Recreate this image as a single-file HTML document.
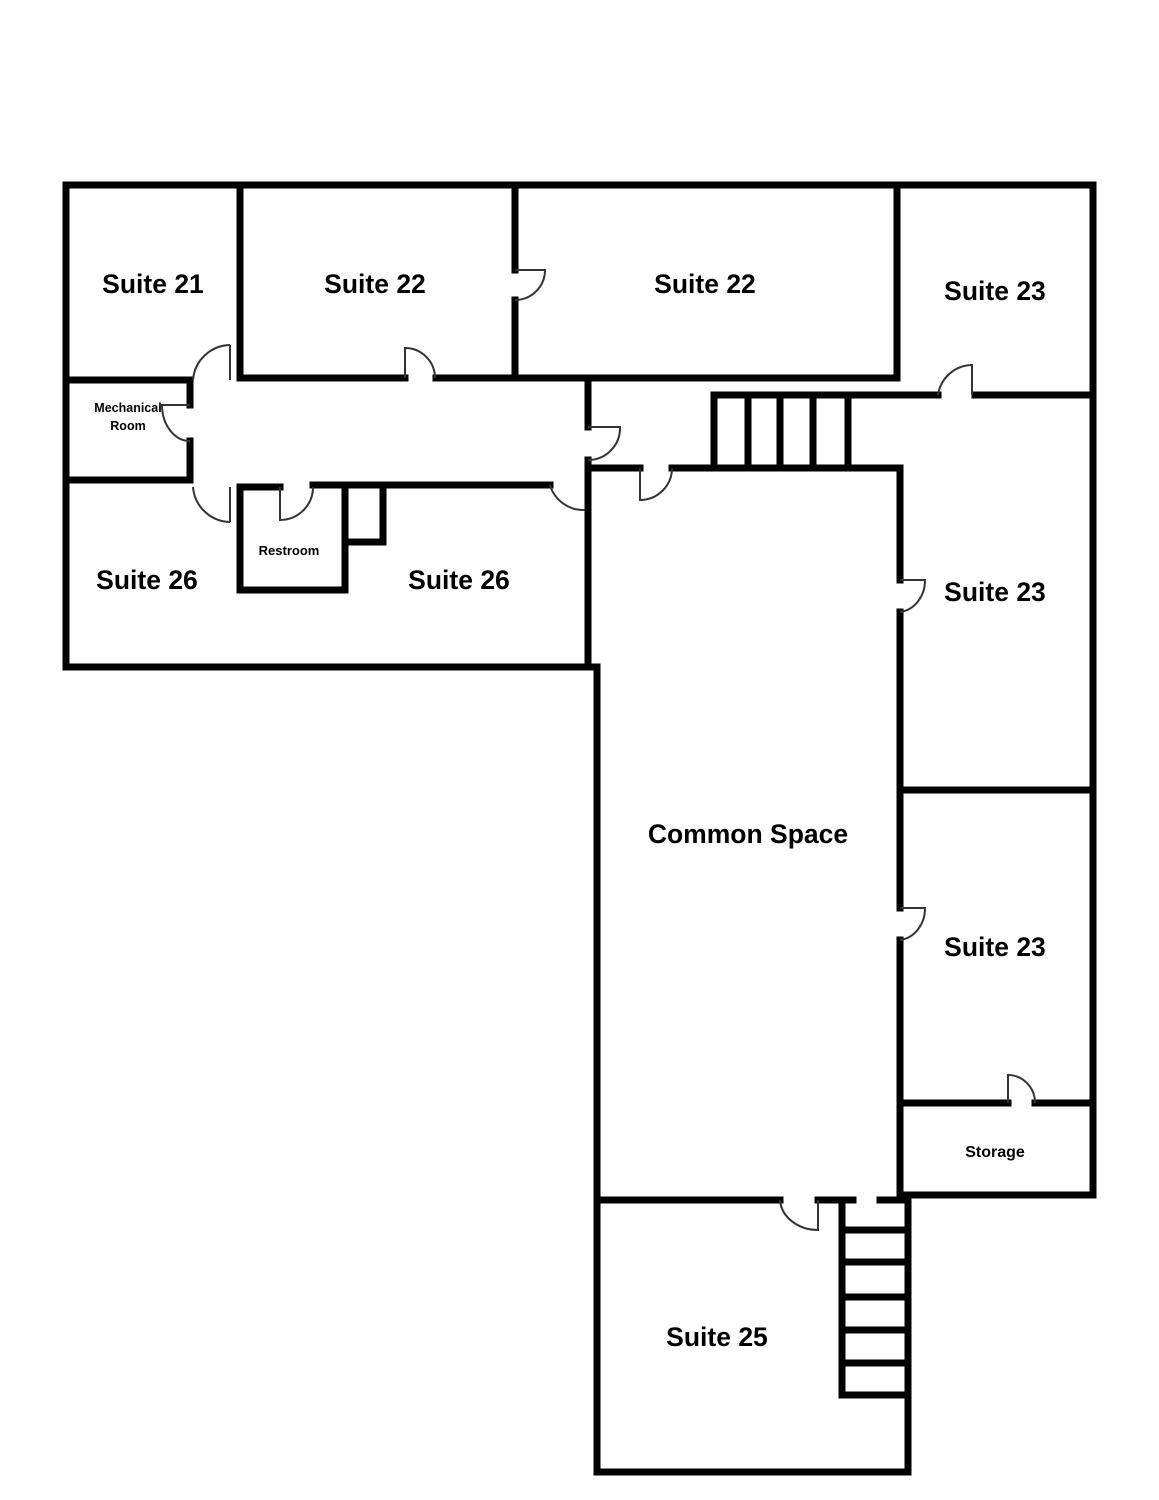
<!DOCTYPE html>
<html><head><style>
html,body{margin:0;padding:0;background:#fff;}
svg{display:block;}
text{font-family:"Liberation Sans",Arial,sans-serif;font-weight:bold;fill:#000;text-anchor:middle;}
</style></head><body>
<svg width="1159" height="1500" viewBox="0 0 1159 1500" xmlns="http://www.w3.org/2000/svg">
<g stroke="#000" stroke-width="7" fill="none" stroke-linecap="square">
<line x1="66" y1="185" x2="1093" y2="185"/>
<line x1="66" y1="185" x2="66" y2="667"/>
<line x1="66" y1="667" x2="597" y2="667"/>
<line x1="597" y1="667" x2="597" y2="1472"/>
<line x1="597" y1="1472" x2="908" y2="1472"/>
<line x1="908" y1="1197" x2="908" y2="1472"/>
<line x1="1093" y1="185" x2="1093" y2="1195"/>
<line x1="900" y1="1195" x2="1093" y2="1195"/>
<line x1="240" y1="185" x2="240" y2="378"/>
<line x1="240" y1="378" x2="405" y2="378"/>
<line x1="436" y1="378" x2="897" y2="378"/>
<line x1="515" y1="185" x2="515" y2="270"/>
<line x1="515" y1="300" x2="515" y2="378"/>
<line x1="897" y1="185" x2="897" y2="378"/>
<line x1="66" y1="380" x2="190" y2="380"/>
<line x1="190" y1="380" x2="190" y2="405"/>
<line x1="190" y1="441" x2="190" y2="480"/>
<line x1="66" y1="480" x2="190" y2="480"/>
<line x1="240" y1="487" x2="280" y2="487"/>
<line x1="240" y1="487" x2="240" y2="590"/>
<line x1="240" y1="590" x2="345" y2="590"/>
<line x1="345" y1="487" x2="345" y2="590"/>
<line x1="313" y1="485" x2="550" y2="485"/>
<line x1="383" y1="485" x2="383" y2="542"/>
<line x1="345" y1="542" x2="383" y2="542"/>
<line x1="588" y1="380" x2="588" y2="427"/>
<line x1="588" y1="460" x2="588" y2="660"/>
<line x1="588" y1="468" x2="640" y2="468"/>
<line x1="672" y1="468" x2="900" y2="468"/>
<line x1="714" y1="395" x2="714" y2="468"/>
<line x1="748" y1="395" x2="748" y2="468"/>
<line x1="780" y1="395" x2="780" y2="468"/>
<line x1="813" y1="395" x2="813" y2="468"/>
<line x1="848" y1="395" x2="848" y2="468"/>
<line x1="714" y1="395" x2="938" y2="395"/>
<line x1="975" y1="395" x2="1093" y2="395"/>
<line x1="900" y1="468" x2="900" y2="580"/>
<line x1="900" y1="612" x2="900" y2="908"/>
<line x1="900" y1="940" x2="900" y2="1195"/>
<line x1="900" y1="790" x2="1093" y2="790"/>
<line x1="900" y1="1103" x2="1008" y2="1103"/>
<line x1="1035" y1="1103" x2="1093" y2="1103"/>
<line x1="597" y1="1200" x2="780" y2="1200"/>
<line x1="818" y1="1200" x2="853" y2="1200"/>
<line x1="880" y1="1200" x2="908" y2="1200"/>
<line x1="842" y1="1200" x2="842" y2="1395"/>
<line x1="842" y1="1395" x2="908" y2="1395"/>
<line x1="842" y1="1230" x2="908" y2="1230"/>
<line x1="842" y1="1262" x2="908" y2="1262"/>
<line x1="842" y1="1297" x2="908" y2="1297"/>
<line x1="842" y1="1330" x2="908" y2="1330"/>
<line x1="842" y1="1363" x2="908" y2="1363"/>
</g>
<g stroke="#333" stroke-width="2" fill="none">
<path d="M230 345 A38 38 0 0 0 193 380 M230 345 V380"/>
<path d="M405 378 V348 A30 30 0 0 1 435 378"/>
<path d="M515 270 H545 A30 30 0 0 1 515 300"/>
<path d="M190 405 H162 A28 36 0 0 0 190 441"/>
<path d="M193 487 A38 38 0 0 0 230 522 M230 487 V522"/>
<path d="M280 487 V520 A33 33 0 0 0 313 487"/>
<path d="M550 485 A35 35 0 0 0 585 510"/>
<path d="M588 427 H620 A32 32 0 0 1 588 460"/>
<path d="M640 468 V500 A32 32 0 0 0 672 468"/>
<path d="M938 395 A35 35 0 0 1 972 365 V395"/>
<path d="M900 580 H925 A28 32 0 0 1 900 612"/>
<path d="M900 908 H925 A28 32 0 0 1 900 940"/>
<path d="M1008 1103 V1075 A27 28 0 0 1 1035 1103"/>
<path d="M780 1200 A38 32 0 0 0 818 1230 V1200"/>
</g>
<text x="153" y="293" font-size="26.5">Suite 21</text>
<text x="375" y="293" font-size="26.5">Suite 22</text>
<text x="705" y="293" font-size="26.5">Suite 22</text>
<text x="995" y="300" font-size="26.5">Suite 23</text>
<text x="128" y="412" font-size="12.5">Mechanical</text>
<text x="128" y="430" font-size="12.5">Room</text>
<text x="289" y="555" font-size="13">Restroom</text>
<text x="147" y="589" font-size="26.5">Suite 26</text>
<text x="459" y="589" font-size="26.5">Suite 26</text>
<text x="995" y="601" font-size="26.5">Suite 23</text>
<text x="748" y="843" font-size="26.5">Common Space</text>
<text x="995" y="956" font-size="26.5">Suite 23</text>
<text x="995" y="1157" font-size="16">Storage</text>
<text x="717" y="1346" font-size="26.5">Suite 25</text>
</svg>
</body></html>
